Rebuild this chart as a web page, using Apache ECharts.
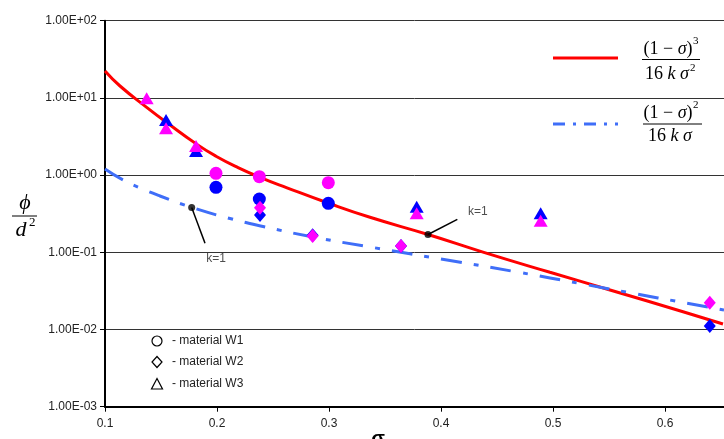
<!DOCTYPE html>
<html><head><meta charset="utf-8">
<script src="https://cdn.jsdelivr.net/npm/echarts@6/dist/echarts.min.js"></script>
<style>html,body{margin:0;padding:0;background:#fff}#c{width:724px;height:439px}</style>
</head><body><div id="c"></div>
<script>
// ---- data ----
const xTickLabels = ['0.1','0.2','0.3','0.4','0.5','0.6'];
const yTickLabels = ['1.00E-03','1.00E-02','1.00E-01','1.00E+00','1.00E+01','1.00E+02'];

const redSigma = [0.100,0.1134,0.1375,0.1554,0.1821,0.1991,0.2188,0.2384,0.2625,0.2991,0.3366,0.3884,0.4375,0.4973,0.5509,0.6161,0.6518];
const redPhi   = [22.3,14.26,7.49,4.76,2.50,1.757,1.251,0.937,0.685,0.435,0.284,0.170,0.1006,0.0551,0.0325,0.0170,0.01178];
const blueSigma = [0.100,0.1161,0.1313,0.1491,0.1774,0.2116,0.2411,0.2857,0.3366,0.4080,0.4679,0.5268,0.5714,0.6161,0.6527];
const bluePhi   = [1.200,0.864,0.681,0.536,0.3816,0.274,0.2159,0.1578,0.1171,0.0783,0.0556,0.0388,0.0294,0.0224,0.0179];

// material W1 (circles)
const w1BlueSigma = [0.1991,0.2378,0.2994];
const w1BluePhi   = [0.695,0.490,0.431];
const w1MagSigma  = [0.1991,0.2378,0.2994];
const w1MagPhi    = [1.055,0.953,0.797];
// material W2 (diamonds)
const w2BlueSigma = [0.2384,0.2854,0.3643,0.640];
const w2BluePhi   = [0.304,0.166,0.121,0.0111];
const w2MagSigma  = [0.2384,0.2854,0.3643,0.640];
const w2MagPhi    = [0.378,0.163,0.121,0.0222];
// material W3 (triangles)
const w3BlueSigma = [0.1545,0.1813,0.3783,0.489];
const w3BluePhi   = [5.17,2.05,0.390,0.320];
const w3MagSigma  = [0.1372,0.1545,0.1813,0.3783,0.489];
const w3MagPhi    = [9.88,4.04,2.38,0.320,0.257];

// "k=1" annotations: [dot, line end], label position
const ann1Sigma = [0.1774,0.1893]; const ann1Phi = [0.3816,0.131];
const ann1Label = [0.1991,0.0818];
const ann2Sigma = [0.3884,0.4146]; const ann2Phi = [0.170,0.267];
const ann2Label = [0.433,0.333];

const zip = (a,b) => a.map((v,i) => [v,b[i]]);

const chart = echarts.init(document.getElementById('c'), null, {renderer:'canvas'});
const sans = 'Liberation Sans, Arial, sans-serif';
const serif = 'Liberation Serif, Times New Roman, DejaVu Serif, serif';
const BLUE = '#0000ff', MAG = '#ff00ff';

function scatter(name, sig, phi, symbol, size, color, z) {
  return {name, type:'scatter', data: zip(sig,phi), symbol, symbolSize:size,
    itemStyle:{color, borderColor:color, borderWidth:0, opacity:1}, z, silent:true};
}
const frac = {a:{fontFamily:serif, fontSize:18, fill:'#000'}, b:{fontFamily:serif, fontSize:18, fontStyle:'italic', fill:'#000'}};

const option = {
  animation:false,
  backgroundColor:'#fff',
  grid:{left:105, right:0, top:20.7, bottom:32.3, containLabel:false, outerBoundsMode:'none'},
  xAxis:{type:'value', min:0.1, max:0.6527, interval:0.1,
    axisLine:{show:true, onZero:false, lineStyle:{color:'#000', width:2}},
    axisTick:{show:true, length:5, lineStyle:{color:'#000'}},
    splitLine:{show:false},
    axisLabel:{color:'#222', fontFamily:sans, fontSize:12, margin:11, showMaxLabel:false,
      formatter: v => { const i = Math.round((v-0.1)/0.1); return (Math.abs(v-(0.1+0.1*i))<1e-6 && xTickLabels[i]) ? xTickLabels[i] : ''; }}
  },
  yAxis:{type:'log', logBase:10, min:0.001, max:100,
    axisLine:{show:true, lineStyle:{color:'#000', width:2}},
    axisTick:{show:true, length:5, lineStyle:{color:'#000'}},
    minorTick:{show:false},
    splitLine:{show:true, lineStyle:{color:'#333', width:1}},
    axisLabel:{color:'#222', fontFamily:sans, fontSize:12, margin:8,
      formatter: v => yTickLabels[Math.round(Math.log10(v))+3] || ''}
  },
  series:[
    {type:'line', data: zip(redSigma, redPhi), smooth:0.5, showSymbol:false, symbol:'none',
      lineStyle:{color:'#ff0000', width:3}, z:2, silent:true},
    {type:'line', data: zip(blueSigma, bluePhi), smooth:0.5, showSymbol:false, symbol:'none',
      lineStyle:{color:'#3f6ef8', width:3, type:[21,12,5,12]}, z:2, silent:true},
    scatter('W1b', w1BlueSigma, w1BluePhi, 'circle', 13, BLUE, 3),
    scatter('W2b', w2BlueSigma, w2BluePhi, 'diamond', [12,14], BLUE, 3),
    scatter('W3b', w3BlueSigma, w3BluePhi, 'triangle', [14,12], BLUE, 3),
    scatter('W1m', w1MagSigma, w1MagPhi, 'circle', 13, MAG, 4),
    scatter('W2m', w2MagSigma, w2MagPhi, 'diamond', [12,14], MAG, 4),
    scatter('W3m', w3MagSigma, w3MagPhi, 'triangle', [14,12], MAG, 4),
    {type:'line', data: zip(ann1Sigma, ann1Phi), symbol:'none', lineStyle:{color:'#000', width:1.5}, z:5, silent:true},
    {type:'line', data: zip(ann2Sigma, ann2Phi), symbol:'none', lineStyle:{color:'#000', width:1.5}, z:5, silent:true},
    {type:'scatter', data:[[ann1Sigma[0],ann1Phi[0]],[ann2Sigma[0],ann2Phi[0]]], symbol:'circle', symbolSize:7,
      itemStyle:{color:'#000'}, z:6, silent:true},
    {type:'scatter', data:[[ann1Label[0],ann1Label[1]],[ann2Label[0],ann2Label[1]]], symbolSize:0, z:6, silent:true,
      label:{show:true, position:'inside', formatter:'k=1', color:'#222', fontFamily:sans, fontSize:12}}
  ],
  graphic:[
    // top-right formula legend
    {type:'line', shape:{x1:553,y1:58,x2:618,y2:58}, style:{stroke:'#ff0000', lineWidth:3}},
    {type:'text', x:668, y:49, style:{text:'{a|(1 − }{b|σ}{a|)}', align:'center', verticalAlign:'middle', rich:frac}},
    {type:'text', x:693, y:36, style:{text:'3', fontFamily:serif, fontSize:11, fill:'#000'}},
    {type:'line', shape:{x1:642,y1:59.5,x2:700,y2:59.5}, style:{stroke:'#000', lineWidth:1}},
    {type:'text', x:667, y:74, style:{text:'{a|16 }{b|k σ}', align:'center', verticalAlign:'middle', rich:frac}},
    {type:'text', x:690, y:63, style:{text:'2', fontFamily:serif, fontSize:11, fill:'#000'}},

    {type:'line', shape:{x1:553,y1:124,x2:618,y2:124}, style:{stroke:'#3f6ef8', lineWidth:3, lineDash:[12,8,3,8]}},
    {type:'text', x:668, y:113, style:{text:'{a|(1 − }{b|σ}{a|)}', align:'center', verticalAlign:'middle', rich:frac}},
    {type:'text', x:693, y:100, style:{text:'2', fontFamily:serif, fontSize:11, fill:'#000'}},
    {type:'line', shape:{x1:643,y1:124,x2:702,y2:124}, style:{stroke:'#000', lineWidth:1}},
    {type:'text', x:670, y:136, style:{text:'{a|16 }{b|k σ}', align:'center', verticalAlign:'middle', rich:frac}},

    // y-axis name phi / d^2
    {type:'text', x:25, y:203, style:{text:'ϕ', align:'center', verticalAlign:'middle', fontFamily:serif, fontSize:22, fontStyle:'italic', fill:'#000'}},
    {type:'line', shape:{x1:12,y1:216,x2:37,y2:216}, style:{stroke:'#000', lineWidth:1}},
    {type:'text', x:21, y:230, style:{text:'d', align:'center', verticalAlign:'middle', fontFamily:serif, fontSize:22, fontStyle:'italic', fill:'#000'}},
    {type:'text', x:29, y:216, style:{text:'2', fontFamily:serif, fontSize:13, fill:'#000'}},

    // x-axis name sigma
    {type:'text', x:378, y:429, style:{text:'σ', align:'center', verticalAlign:'top', fontFamily:sans, fontSize:20, fontWeight:'bold', fill:'#000'}},

    // bottom-left material legend
    {type:'circle', shape:{cx:157, cy:341, r:5}, style:{fill:'none', stroke:'#000', lineWidth:1.2}},
    {type:'polygon', shape:{points:[[157,356.5],[162,362],[157,367.5],[152,362]]}, style:{fill:'none', stroke:'#000', lineWidth:1.2}},
    {type:'polygon', shape:{points:[[157,378.5],[162.5,389],[151.5,389]]}, style:{fill:'none', stroke:'#000', lineWidth:1.2}},
    {type:'text', x:172, y:341, style:{text:'- material W1', verticalAlign:'middle', fontFamily:sans, fontSize:12, fill:'#222'}},
    {type:'text', x:172, y:362, style:{text:'- material W2', verticalAlign:'middle', fontFamily:sans, fontSize:12, fill:'#222'}},
    {type:'text', x:172, y:384, style:{text:'- material W3', verticalAlign:'middle', fontFamily:sans, fontSize:12, fill:'#222'}}
  ]
};
chart.setOption(option);
</script></body></html>
